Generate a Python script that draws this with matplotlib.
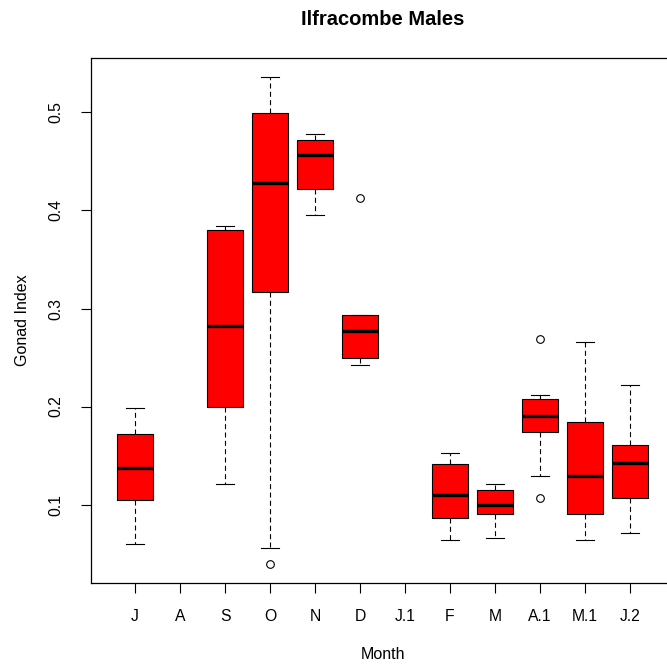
"""
Boxplot do índice gonadal por mês (Ilfracombe, machos).
"""

import numpy as np
import matplotlib
matplotlib.use('Agg')
import matplotlib.pyplot as plt

plt.rcParams['font.family'] = ['Liberation Sans', 'DejaVu Sans']
plt.rcParams['font.size'] = 11.3

# Meses (A e J.1 sem amostras)
months = ['J', 'A', 'S', 'O', 'N', 'D', 'J.1', 'F', 'M', 'A.1', 'M.1', 'J.2']

# Resumo de cinco números
whisker_low = [0.0598, None, 0.1212, 0.0553, 0.3958, 0.2423, None, 0.0642, 0.0662, 0.1290, 0.0642, 0.0706]
q1 = [0.1050, None, 0.2000, 0.3173, 0.4221, 0.2494, None, 0.0860, 0.0905, 0.1740, 0.0905, 0.1069]
median = [0.1376, None, 0.2825, 0.4283, 0.4565, 0.2771, None, 0.1102, 0.0993, 0.1900, 0.1297, 0.1420]
q3 = [0.1716, None, 0.3797, 0.4999, 0.4716, 0.2931, None, 0.1417, 0.1154, 0.2075, 0.1846, 0.1604]
whisker_high = [0.1990, None, 0.3845, 0.5357, 0.4777, 0.2931, None, 0.1525, 0.1208, 0.2119, 0.2658, 0.2218]
outliers = [[], [], [], [0.0399], [], [0.4129], [], [], [], [0.2689, 0.1069], [], []]

# Montar estatísticas para bxp
stats = []
positions = []
for i, m in enumerate(months):
    if median[i] is None:
        continue
    stats.append({
        'med': median[i], 'q1': q1[i], 'q3': q3[i],
        'whislo': whisker_low[i], 'whishi': whisker_high[i],
        'fliers': outliers[i], 'label': m,
    })
    positions.append(i + 1)

fig = plt.figure(figsize=(6.67, 6.66), dpi=100)
# Eixo à moda do R: a borda direita sai da imagem
ax = fig.add_axes([91 / 667, 83 / 666, 583 / 667, 525 / 666])

ax.bxp(stats, positions=positions, widths=0.8, capwidths=0.4,
       patch_artist=True, showfliers=True,
       boxprops=dict(facecolor='#ff0000', edgecolor='black', linewidth=0.8),
       medianprops=dict(color='black', linewidth=2.4, solid_capstyle='butt'),
       whiskerprops=dict(color='black', linewidth=0.8, linestyle=(0, (4.5, 3))),
       capprops=dict(color='black', linewidth=0.8),
       flierprops=dict(marker='o', markerfacecolor='none', markeredgecolor='black',
                       markersize=5.5, markeredgewidth=0.8))

# Limites com expansão de 4% como no R
all_low = [v for v in whisker_low if v is not None] + [v for f in outliers for v in f]
all_high = [v for v in whisker_high if v is not None] + [v for f in outliers for v in f]
lo, hi = min(all_low), max(all_high)
ext = 0.04 * (hi - lo)
ax.set_ylim(lo - ext, hi + ext)
ax.set_xlim(0.5 - 0.48, len(months) + 0.5 + 0.48)

ax.set_xticks(range(1, len(months) + 1))
ax.set_xticklabels(months)
ax.set_yticks([0.1, 0.2, 0.3, 0.4, 0.5])
ax.set_yticklabels(['0.1', '0.2', '0.3', '0.4', '0.5'], rotation=90, va='center')
ax.tick_params(axis='both', length=7, width=0.8, labelsize=11.3)
ax.tick_params(axis='x', pad=11.5)
ax.tick_params(axis='y', pad=13)

for s in ax.spines.values():
    s.set_linewidth(0.9)

ax.set_xlabel('Month', fontsize=11.5, labelpad=17)
ax.set_ylabel('Gonad Index', fontsize=11.5, labelpad=13)
ax.set_title('Ilfracombe Males', fontsize=14.5, fontweight='bold', pad=24)

fig.savefig('out.png', dpi=100)
plt.close(fig)
